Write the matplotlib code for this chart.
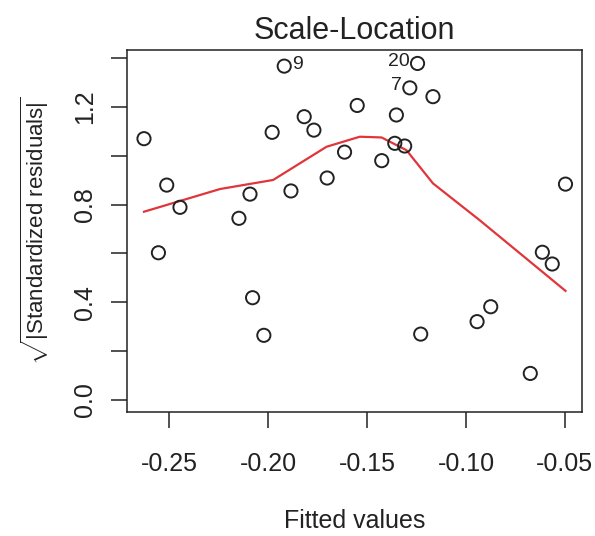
"""Scale-Location diagnostic plot (R style) recreated with matplotlib."""

import matplotlib
matplotlib.use("Agg")
import matplotlib.pyplot as plt

# fitted values and sqrt(|standardized residuals|)
fitted = [-0.2628, -0.1919, -0.1245, -0.1284, -0.1167, -0.1550, -0.1352, -0.1818,
          -0.1769, -0.1980, -0.1360, -0.1310, -0.1614, -0.1426, -0.1702, -0.2513,
          -0.0497, -0.1885, -0.2092, -0.2446, -0.2148, -0.2555, -0.0614, -0.0564,
          -0.2079, -0.2022, -0.1229, -0.0944, -0.0875, -0.0675]
sqrt_resid = [1.070, 1.367, 1.378, 1.278, 1.242, 1.206, 1.167, 1.160,
              1.105, 1.096, 1.051, 1.040, 1.015, 0.980, 0.909, 0.880,
              0.884, 0.856, 0.843, 0.789, 0.744, 0.603, 0.605, 0.557,
              0.419, 0.265, 0.270, 0.321, 0.382, 0.109]

# labelled points: (index into arrays, label, side)
labels = [(1, "9", "right"), (2, "20", "left"), (3, "7", "left")]

# smoother (lowess)
smooth_x = [-0.2628, -0.2243, -0.1975, -0.1705, -0.1537, -0.1427, -0.1301, -0.1167, -0.0932, -0.0497]
smooth_y = [0.771, 0.864, 0.901, 1.037, 1.078, 1.075, 1.023, 0.887, 0.737, 0.447]

x_ticks = [-0.25, -0.20, -0.15, -0.10, -0.05]
y_ticks = [0.0, 0.2, 0.4, 0.6, 0.8, 1.0, 1.2, 1.4]
y_ticklabels = ["0.0", "", "0.4", "", "0.8", "", "1.2", ""]

plt.rcParams["font.family"] = ["Liberation Sans", "DejaVu Sans"]
plt.rcParams["mathtext.fontset"] = "custom"
plt.rcParams["mathtext.rm"] = "Liberation Sans"
plt.rcParams["mathtext.it"] = "Liberation Sans:italic"

ink = "#222222"

fig = plt.figure(figsize=(5.95, 5.36), dpi=100)
ax = fig.add_axes([0.2134, 0.2313, 0.978 - 0.2134, 0.9067 - 0.2313])

ax.scatter(fitted, sqrt_resid, s=90, facecolors="none", edgecolors=ink, linewidths=1.4, zorder=3)
ax.plot(smooth_x, smooth_y, color="#e0353a", linewidth=1.6, zorder=2)

for i, txt, side in labels:
    dx = 5.5 if side == "right" else -5.5
    ax.annotate(txt, (fitted[i], sqrt_resid[i]), xytext=(dx, 1.5), textcoords="offset points",
                ha="left" if side == "right" else "right", va="center",
                fontsize=14, color=ink)

ax.set_xlim(-0.2714, -0.0414)
ax.set_ylim(-0.049, 1.433)
ax.set_xticks(x_ticks)
ax.set_xticklabels([f"{v:.2f}" for v in x_ticks])
ax.set_yticks(y_ticks)
ax.set_yticklabels(y_ticklabels, rotation=90, va="center")

ax.tick_params(axis="both", direction="out", length=11.5, width=1.1, colors=ink,
               labelsize=18, labelcolor=ink)
ax.tick_params(axis="x", pad=17)
ax.tick_params(axis="y", pad=10)

for spine in ax.spines.values():
    spine.set_color(ink)
    spine.set_linewidth(1.1)

ax.set_title("Scale-Location", fontsize=22, color=ink, pad=8)
ax.set_xlabel("Fitted values", fontsize=18, color=ink, labelpad=24)
ax.set_ylabel(r"$\sqrt{|\mathrm{Standardized\ residuals}|}$", fontsize=16, color=ink, labelpad=16)

fig.savefig("out.png", dpi=100)
plt.close(fig)
